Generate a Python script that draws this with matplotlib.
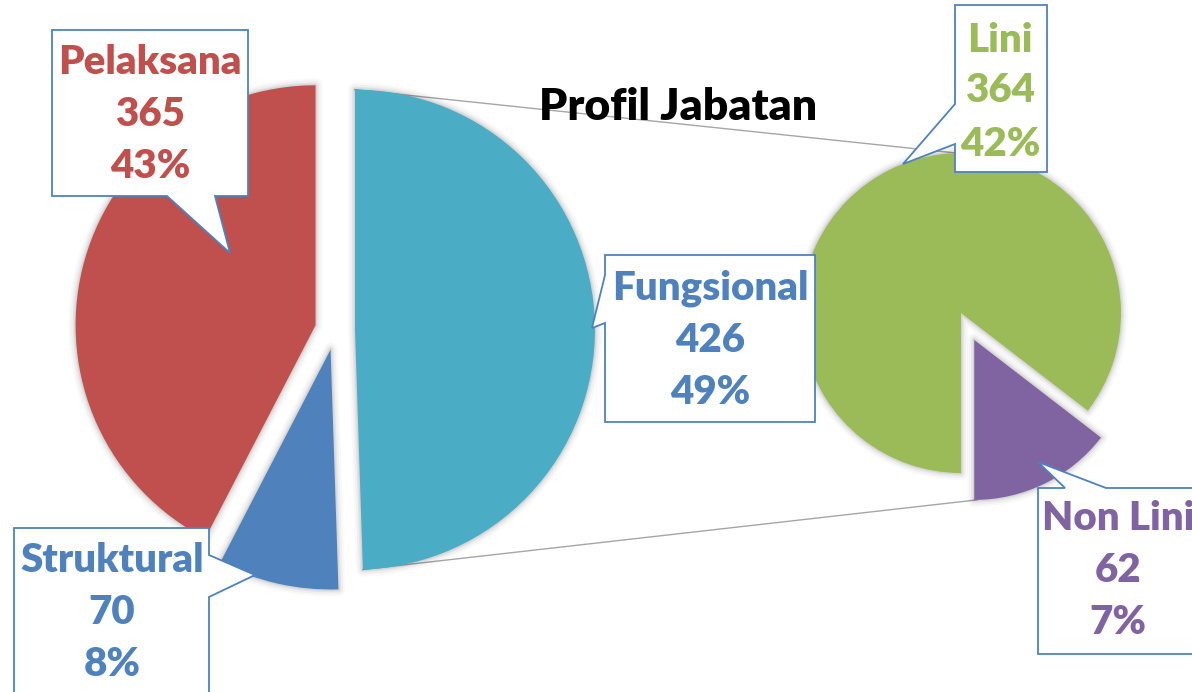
import matplotlib
matplotlib.use("Agg")
import matplotlib.pyplot as plt
from matplotlib.patches import Polygon, Wedge
from matplotlib import font_manager
import numpy as np

# ---- data ----
main_labels = ["Pelaksana", "Struktural", "Fungsional"]
main_values = [365, 70, 426]
main_pct = ["43%", "8%", "49%"]
sub_labels = ["Lini", "Non Lini"]
sub_values = [364, 62]
sub_pct = ["42%", "7%"]
title = "Profil Jabatan"

main_colors = ["#C0504D", "#4F81BD", "#4BACC6"]
main_text_colors = ["#C0504D", "#4F81BD", "#4F81BD"]
sub_colors = ["#9BBB59", "#8064A2"]
sub_text_colors = ["#9BBB59", "#8064A2"]

W, H = 1192, 692
fig = plt.figure(figsize=(W / 100, H / 100), dpi=100)
ax = fig.add_axes([0, 0, 1, 1])

def Y(y):  # image row -> data y
    return H - y

FONT = "Lato"
WEIGHT = "heavy"

# ---- main pie ----
c1 = (335, Y(330)); r1 = 240
w1, _ = ax.pie(main_values, colors=main_colors, startangle=90, counterclock=True,
               radius=r1, center=c1, explode=[20, 20, 20],
               wedgeprops=dict(linewidth=0, zorder=3), frame=True)
# ---- secondary pie ----
c2 = (961, Y(313)); r2 = 160
w2, _ = ax.pie(sub_values, colors=sub_colors, startangle=-90, counterclock=False,
               radius=r2, center=c2, explode=[0, 30],
               wedgeprops=dict(linewidth=0, zorder=3), frame=True)
ax.set_xlim(0, W)
ax.set_ylim(0, H)
ax.set_aspect("equal")
ax.axis("off")

# soft shadows
for w in list(w1) + list(w2):
    for lw, a in [(10, 0.025), (7, 0.035), (4, 0.05), (2, 0.06)]:
        s = Wedge(w.center, w.r, w.theta1, w.theta2, facecolor="none",
                  edgecolor="black", lw=lw, alpha=a, zorder=2, joinstyle="round")
        s.set_transform(w.get_transform())
        ax.add_patch(s)

# connector lines (from geometry)
fw = w1[2]
fc = fw.center
ang_start = np.deg2rad(fw.theta1)
ang_end = np.deg2rad(fw.theta2)
p_top = (fc[0] + r1 * np.cos(ang_end), fc[1] + r1 * np.sin(ang_end))
p_bot = (fc[0] + r1 * np.cos(ang_start), fc[1] + r1 * np.sin(ang_start))
nl = w2[1]
q_top = (c2[0] - 5, c2[1] + r2)
q_bot = (nl.center[0] + r2 * np.cos(np.deg2rad(-89)), nl.center[1] + r2 * np.sin(np.deg2rad(-89)))
ax.plot([p_top[0], q_top[0]], [p_top[1], q_top[1]], color="#A6A6A6", lw=1.0, zorder=1)
ax.plot([p_bot[0], q_bot[0]], [p_bot[1], q_bot[1]], color="#A6A6A6", lw=1.0, zorder=1)

ax.text(678, Y(107), title, ha="center", va="center", fontsize=32,
        fontweight=WEIGHT, family=FONT, color="black", zorder=4)

# ---- callout labels (layout in image pixels) ----
layout = {
    "Pelaksana": ((52, 30, 248, 196), "bottom", (167, 215), (230, 253)),
    "Struktural": ((14, 528, 209, 720), "right", (555, 597), (255, 575)),
    "Fungsional": ((605, 255, 815, 422), "left", (275, 323), (592, 328)),
    "Lini": ((955, 5, 1047, 172), "left", (104, 144), (903, 164)),
    "Non Lini": ((1038, 488, 1205, 654), "top", (1065, 1106), (1038, 462)),
}
text_pos = {
    "Pelaksana": (150, [62, 115, 167]),
    "Struktural": (112, [560, 613, 665]),
    "Fungsional": (710, [288, 340, 392]),
    "Lini": (1000, [40, 91, 145]),
    "Non Lini": (1118, [518, 570, 622]),
}

def callout(box, side, base, tip):
    x0, y0, x1, y1 = box
    a, b = base
    if side == "bottom":
        pts = [(x0, y0), (x1, y0), (x1, y1), (b, y1), tip, (a, y1), (x0, y1)]
    elif side == "top":
        pts = [(x0, y0), (a, y0), tip, (b, y0), (x1, y0), (x1, y1), (x0, y1)]
    elif side == "right":
        pts = [(x0, y0), (x1, y0), (x1, a), tip, (x1, b), (x1, y1), (x0, y1)]
    else:  # left
        pts = [(x0, y0), (x1, y0), (x1, y1), (x0, y1), (x0, b), tip, (x0, a)]
    return [(p[0], Y(p[1])) for p in pts]

entries = list(zip(main_labels, main_values, main_pct, main_text_colors)) + \
          list(zip(sub_labels, sub_values, sub_pct, sub_text_colors))

for lab, val, pct, col in entries:
    box, side, base, tip = layout[lab]
    poly = Polygon(callout(box, side, base, tip), closed=True, facecolor="white",
                   edgecolor="#4F81BD", lw=1.3, zorder=5, joinstyle="miter")
    ax.add_patch(poly)
    cx, ys = text_pos[lab]
    for s, yy in zip([lab, str(val), pct], ys):
        ax.text(cx, Y(yy), s, ha="center", va="center", fontsize=29,
                fontweight=WEIGHT, family=FONT, color=col, zorder=6)

fig.savefig("out.png", dpi=100)
